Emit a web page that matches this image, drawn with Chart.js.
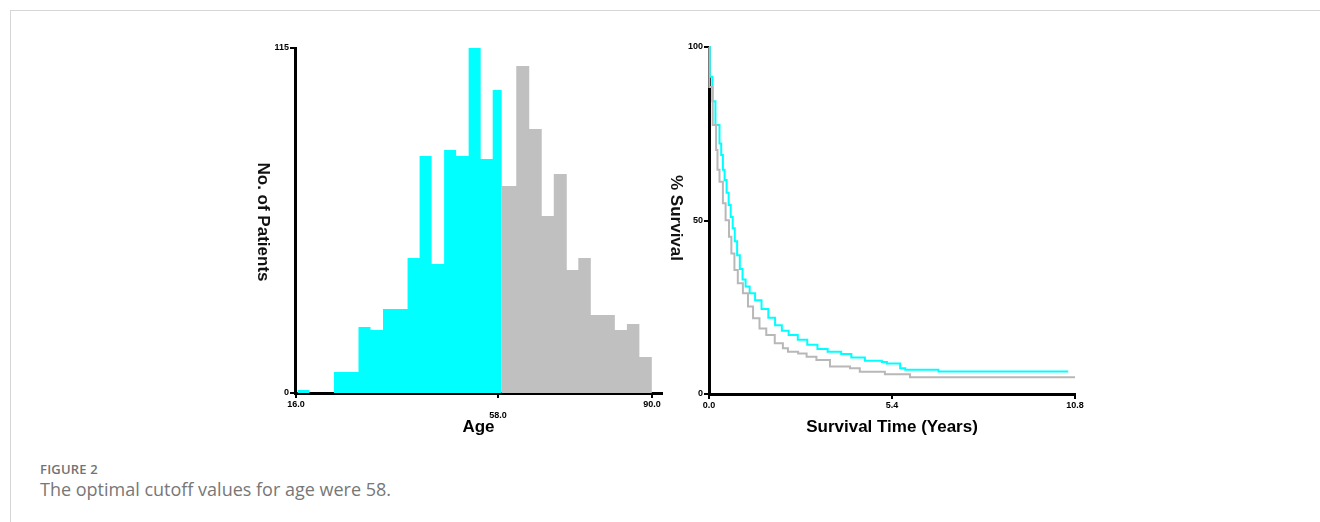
<!DOCTYPE html>
<html>
<head>
<meta charset="utf-8">
<script src="https://cdn.jsdelivr.net/npm/chart.js@4.4.1/dist/chart.umd.min.js"></script>
<style>
	html,body{margin:0;padding:0;background:#fff;}
	body{width:1320px;height:522px;position:relative;overflow:hidden;font-family:"Liberation Sans",Arial,sans-serif;}
	.frame{position:absolute;left:10px;top:10px;width:1310px;height:512px;border-left:1px solid #d6d6d6;border-top:1px solid #d6d6d6;}
	#ageChart{position:absolute;left:240px;top:20px;}
	#survChart{position:absolute;left:680px;top:20px;}
	.ytitle{position:absolute;writing-mode:vertical-rl;font-weight:bold;font-size:17px;color:#111;transform:translate(-50%,-50%);white-space:nowrap;}
	.fig{position:absolute;left:40px;top:460px;font-family:"Open Sans",sans-serif;font-size:13px;font-weight:600;color:#737373;letter-spacing:0.2px;}
	.cap{position:absolute;left:40px;top:477px;font-family:"Open Sans",sans-serif;font-size:18px;color:#777;}
</style>
</head>
<body>
<div class="frame"></div>
<canvas id="ageChart" width="450" height="425"></canvas>
<canvas id="survChart" width="420" height="425"></canvas>
<div class="ytitle" style="left:263px;top:222px;">No. of Patients</div>
<div class="ytitle" style="left:676px;top:218px;">% Survival</div>
<div class="fig">FIGURE 2</div>
<div class="cap">The optimal cutoff values for age were 58.</div>
<script>
'use strict';

// age histogram: left bin edges and counts, split at the cutoff
var cutoffAge = 58;
var ageTicks = [16, 58, 90];
var youngEdges = [16.3, 18.8, 21.4, 23.9, 26.5, 29.0, 31.5, 34.1, 36.6, 39.2, 41.7, 44.2, 46.8, 49.3, 51.9, 54.4, 56.9];
var youngCounts = [1, 0, 0, 7, 7, 22, 21, 28, 28, 45, 79, 43, 81, 79, 115, 78, 101];
var youngEnd = 58.8;
var oldEdges = [58.8, 61.8, 64.5, 67.1, 69.6, 72.3, 74.7, 77.3, 79.9, 82.3, 84.8, 87.4];
var oldCounts = [69, 109, 88, 59, 73, 41, 45, 26, 26, 21, 23, 12];
var oldEnd = 90.0;

// survival curves (years, % survival)
var survTicks = [0, 5.4, 10.8];
var youngTime = [0, 0.03, 0.10, 0.19, 0.31, 0.36, 0.41, 0.46, 0.52, 0.58, 0.64, 0.70, 0.76, 0.83, 0.91, 0.99, 1.08, 1.20, 1.36, 1.55, 1.75, 1.95, 2.15, 2.35, 2.62, 2.90, 3.20, 3.50, 3.90, 4.20, 4.60, 5.10, 5.25, 5.64, 5.79, 6.77, 10.6];
var youngSurv = [100, 91.4, 84.4, 77.5, 72.2, 68.9, 64.6, 61.7, 58.0, 54.5, 51.0, 47.8, 44.0, 40.0, 36.0, 33.0, 31.0, 29.0, 27.0, 24.5, 22.0, 19.8, 18.2, 17.0, 15.6, 14.2, 13.0, 12.2, 11.5, 10.5, 9.6, 9.2, 8.8, 7.4, 7.0, 6.5, 6.5];
var oldTime = [0, 0.01, 0.11, 0.21, 0.25, 0.31, 0.41, 0.49, 0.59, 0.66, 0.75, 0.85, 1.0, 1.15, 1.30, 1.49, 1.69, 1.94, 2.18, 2.33, 2.63, 2.88, 3.17, 3.57, 4.16, 4.45, 5.19, 5.93, 10.8];
var oldSurv = [100, 88.5, 77.5, 70.3, 64.6, 61.2, 55.0, 50.1, 45.3, 40.5, 35.7, 31.9, 29.0, 25.2, 21.8, 18.9, 17.0, 14.6, 13.2, 12.2, 11.7, 10.7, 9.8, 7.9, 7.4, 6.4, 5.7, 4.8, 4.8];

var CYAN = '#00ffff';
var GREY_BAR = '#c0c0c0';
var GREY_LINE = '#b8b8b8';
var FONT = '"Liberation Sans", Arial, sans-serif';

function histPoints(edges, counts, end){
	var pts = edges.map(function(e, i){ return {x: e, y: counts[i]}; });
	pts.push({x: end, y: counts[counts.length - 1]});
	return pts;
}

function pairs(xs, ys){
	return xs.map(function(x, i){ return {x: x, y: ys[i]}; });
}

function axis(tickValues, fmt, size, title){
	var a = {
		type: 'linear',
		afterBuildTicks: function(s){ s.ticks = tickValues.map(function(v){ return {value: v}; }); },
		ticks: {autoSkip: false, maxRotation: 0, padding: 1, color: '#000', font: {family: FONT, size: 9, weight: 'bold'}, callback: fmt},
		grid: {drawOnChartArea: false, drawTicks: true, tickLength: 5, color: '#000', lineWidth: 2},
		border: {display: true, color: '#000', width: 3},
		afterFit: size
	};
	if(title){
		a.title = {display: true, text: title, color: '#000', font: {family: FONT, size: 17, weight: 'bold'}, padding: {top: 0, bottom: 7}};
	}
	return a;
}

function charts(){
	new Chart(document.getElementById('ageChart'), {
		type: 'line',
		data: {
			datasets: [
				{label: '≤58', data: histPoints(youngEdges, youngCounts, youngEnd), stepped: true, fill: 'origin', backgroundColor: CYAN, borderWidth: 0, pointRadius: 0},
				{label: '>58', data: histPoints(oldEdges, oldCounts, oldEnd), stepped: true, fill: 'origin', backgroundColor: GREY_BAR, borderWidth: 0, pointRadius: 0}
			]
		},
		options: {
			responsive: false,
			animation: false,
			layout: {padding: {top: 28, right: 28, left: 0, bottom: 0}},
			plugins: {legend: {display: false}, tooltip: {enabled: false}},
			scales: {
				x: Object.assign(axis(ageTicks, function(v){
					return v === cutoffAge ? ['', v.toFixed(1)] : v.toFixed(1);
				}, function(s){ s.height = 52; }, 'Age'), {min: 15.8, max: 92.1}),
				y: Object.assign(axis([0, 115], function(v){ return String(v); }, function(s){ s.width = 55; }), {min: 0, max: 115})
			}
		}
	});

	new Chart(document.getElementById('survChart'), {
		type: 'line',
		data: {
			datasets: [
				{label: '≤58', data: pairs(youngTime, youngSurv), stepped: true, fill: false, borderColor: CYAN, borderWidth: 2, pointRadius: 0, clip: false, order: 2},
				{label: '>58', data: pairs(oldTime, oldSurv), stepped: true, fill: false, borderColor: GREY_LINE, borderWidth: 2, pointRadius: 0, clip: false, order: 1}
			]
		},
		options: {
			responsive: false,
			animation: false,
			layout: {padding: {top: 27, right: 25, left: 0, bottom: 0}},
			plugins: {legend: {display: false}, tooltip: {enabled: false}},
			scales: {
				x: Object.assign(axis(survTicks, function(v){ return v.toFixed(1); }, function(s){ s.height = 51; }, 'Survival Time (Years)'), {min: 0, max: 10.8}),
				y: Object.assign(axis([0, 50, 100], function(v){ return String(v); }, function(s){ s.width = 29; }), {min: 0, max: 100})
			}
		}
	});
}

charts();
</script>
</body>
</html>
